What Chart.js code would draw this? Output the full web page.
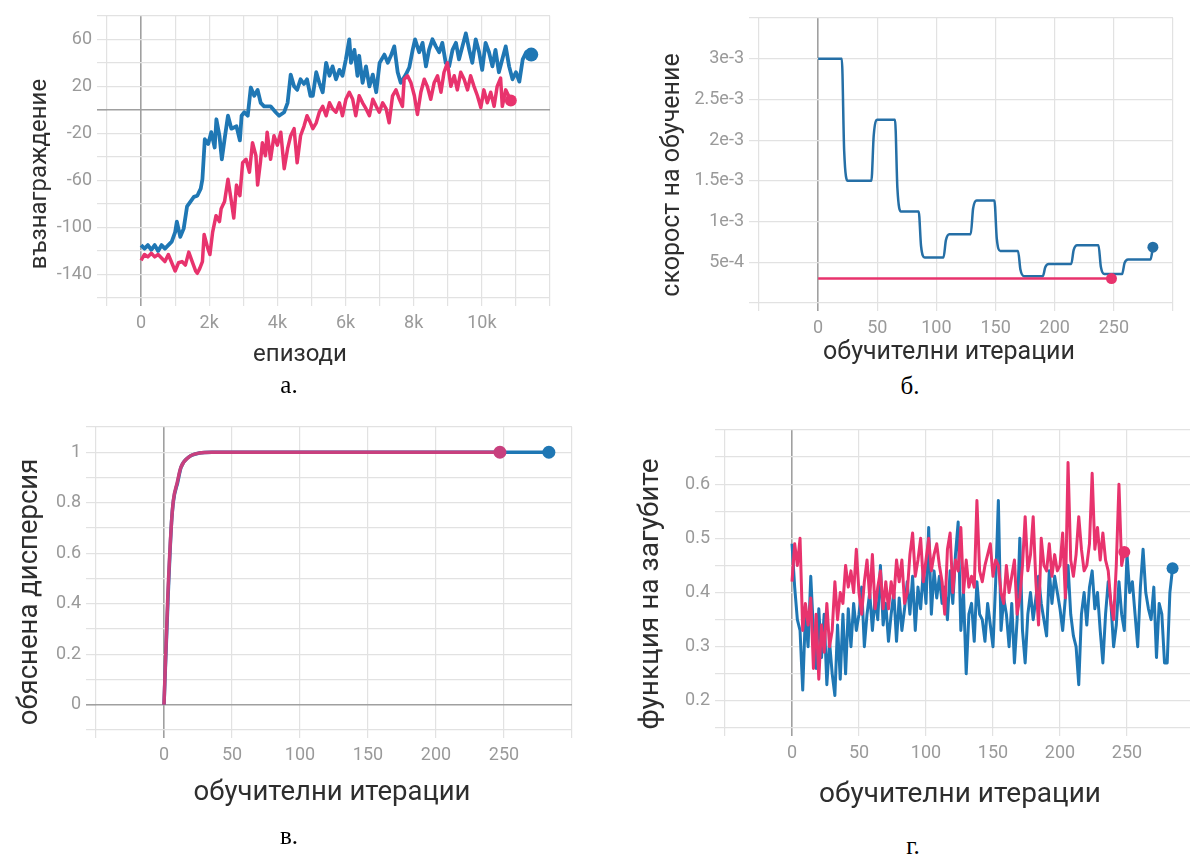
<!DOCTYPE html>
<html lang="bg">
<head>
<meta charset="UTF-8">
<title>Обучение</title>
<script src="https://cdn.jsdelivr.net/npm/chart.js"></script>
<style>
  html, body { margin: 0; padding: 0; background: #fff; overflow: hidden; width: 1190px; height: 854px; }
  .box { position: absolute; }
  .cap { position: absolute; font-family: "Liberation Serif", "Times New Roman", serif; font-size: 25px;
         line-height: 25px; color: #000; transform: translateX(-50%); white-space: nowrap; }
</style>
</head>
<body>
<div class="box" style="left:0;top:0;width:595px;height:372px"><canvas id="chartA"></canvas></div>
<div class="box" style="left:595px;top:0;width:595px;height:372px"><canvas id="chartB"></canvas></div>
<div class="box" style="left:0;top:410px;width:595px;height:402px"><canvas id="chartC"></canvas></div>
<div class="box" style="left:595px;top:410px;width:620px;height:402px"><canvas id="chartD"></canvas></div>
<div class="cap" style="left:289px;top:372px">а.</div>
<div class="cap" style="left:910px;top:373px">б.</div>
<div class="cap" style="left:289px;top:823px">в.</div>
<div class="cap" style="left:913px;top:833px">г.</div>

<script>
    // --- а. reward per episode
    const aBlueEp = [0,100,200,300,400,500,600,700,800,900,1000,1050,1150,1250,1350,1450,1550,1650,1750,1800,
        1870,1970,2060,2160,2210,2300,2370,2450,2550,2650,2800,2900,2950,3030,3130,3220,3320,3420,3510,3610,
        3800,3950,4050,4200,4300,4390,4490,4580,4680,4780,4870,4970,5040,5140,5230,5330,5430,5530,5620,5720,
        5820,5910,6010,6110,6160,6260,6350,6400,6500,6600,6700,6800,6900,7000,7140,7240,7330,7430,7530,7620,
        7770,7870,7970,8040,8160,8260,8360,8450,8550,8650,8750,8840,8940,9040,9140,9240,9330,9430,9530,9630,
        9720,9820,9920,10010,10110,10210,10310,10400,10500,10600,10700,10800,10900,11000,11100,11200,11300,11450];
    const aBlueReward = [-115,-118,-115,-119,-115,-120,-115,-118,-115,-112,-104,-95,-108,-101,-82,-78,-74,-73,-67,-59,
        -25,-29,-19,-32,-8,-22,-42,-25,-5,-16,-14,-26,-5,-2,-5,19,12,17,6,3,
        3,-2,-5,-2,6,30,20,17,26,22,26,12,12,32,23,15,40,29,37,26,
        34,29,43,60,40,51,29,46,23,37,20,30,15,40,47,40,46,54,32,23,
        30,36,51,60,49,57,37,51,60,54,49,57,40,37,51,57,43,54,65,51,
        40,60,49,34,57,49,37,51,32,43,54,37,26,32,24,43,49,47];
    const aPinkEp = [0,100,200,300,400,500,600,700,800,900,1000,1100,1200,1300,1400,1500,1600,1650,1720,1800,
        1850,1960,2020,2100,2200,2300,2350,2450,2550,2650,2720,2800,2900,2980,3080,3180,3270,3370,3420,3500,
        3560,3650,3700,3800,3900,4000,4100,4200,4300,4390,4490,4580,4680,4780,4870,4970,5040,5140,5230,5330,
        5430,5530,5620,5720,5820,5910,6010,6110,6210,6300,6400,6500,6600,6700,6800,6900,6990,7090,7190,7280,
        7380,7480,7580,7670,7720,7820,7920,8020,8110,8210,8310,8400,8500,8600,8700,8800,8890,8990,9090,9190,
        9280,9380,9480,9580,9670,9770,9870,9970,10060,10160,10260,10360,10450,10550,10600,10700,10850];
    const aPinkReward = [-128,-123,-125,-122,-125,-123,-126,-129,-123,-130,-137,-130,-129,-132,-121,-129,-137,-139,-135,-129,
        -106,-118,-123,-104,-90,-95,-84,-78,-59,-78,-92,-64,-73,-45,-42,-53,-28,-39,-64,-45,
        -28,-39,-19,-42,-22,-30,-19,-50,-33,-22,-16,-45,-22,-14,-5,-11,-16,-11,-2,3,
        -5,6,1,-2,6,-5,9,15,9,-5,12,6,1,-5,9,3,-2,6,1,-11,
        12,17,9,3,26,29,23,12,-4,15,26,20,9,23,29,15,32,40,20,29,
        17,32,26,17,29,20,12,2,17,6,15,3,20,27,3,17,8];
    const aXTickVals = [0, 2000, 4000, 6000, 8000, 10000];
    const aXTickText = ['0', '2k', '4k', '6k', '8k', '10k'];
    const aYTickVals = [60, 20, -20, -60, -100, -140];
    const aYTickText = ['60', '20', '-20', '-60', '-100', '-140'];

    // --- б. learning rate
    const bBlueIt = [0,20,22,25,45,47,50,65,67,70,85,87,90,106,108,111,129,131,134,149,
        151,154,169,171,174,190,192,195,214,216,219,237,239,242,257,259,262,281,283];
    const bBlueLr = [3.0e-3,3.0e-3,1.87e-3,1.5e-3,1.5e-3,2.06e-3,2.25e-3,2.25e-3,1.41e-3,1.125e-3,
        1.125e-3,7.0e-4,5.6e-4,5.6e-4,7.7e-4,8.45e-4,8.45e-4,1.16e-3,1.26e-3,1.26e-3,
        7.95e-4,6.4e-4,6.4e-4,4.1e-4,3.3e-4,3.3e-4,4.4e-4,4.8e-4,4.8e-4,6.5e-4,
        7.1e-4,7.1e-4,4.45e-4,3.55e-4,3.55e-4,4.9e-4,5.35e-4,5.35e-4,6.85e-4];
    const bPinkIt = [0, 248];
    const bPinkLr = [3e-4, 3e-4];
    const bYTickVals = [3e-3, 2.5e-3, 2e-3, 1.5e-3, 1e-3, 5e-4];
    const bYTickText = ['3e-3', '2.5e-3', '2e-3', '1.5e-3', '1e-3', '5e-4'];

    // --- в. explained variance
    const cBlueIt = [0, 3, 5.5, 7, 10, 12.5, 18, 26, 35, 283];
    const cBlueVar = [0, 0.43, 0.72, 0.81, 0.88, 0.94, 0.98, 0.997, 1, 1];
    const cPinkIt = [0, 2.8, 5.5, 6.9, 9.7, 12.4, 18, 26, 35, 247];
    const cPinkVar = [0, 0.43, 0.72, 0.81, 0.88, 0.94, 0.98, 0.997, 1, 1];
    const cYTickVals = [0, 0.2, 0.4, 0.6, 0.8, 1];
    const cYTickText = ['0', '0.2', '0.4', '0.6', '0.8', '1'];

    // --- г. loss, sampled every 2 iterations
    const dStep = 2;
    const dBlueLoss = [0.49,0.41,0.35,0.33,0.22,0.36,0.30,0.43,0.33,0.26,
        0.37,0.28,0.36,0.23,0.31,0.25,0.21,0.34,0.24,0.36,
        0.25,0.37,0.30,0.38,0.33,0.36,0.41,0.30,0.36,0.40,
        0.33,0.39,0.35,0.45,0.34,0.38,0.31,0.36,0.40,0.31,
        0.39,0.33,0.37,0.42,0.36,0.43,0.33,0.41,0.37,0.44,
        0.38,0.52,0.36,0.44,0.39,0.43,0.38,0.41,0.35,0.44,
        0.38,0.47,0.53,0.33,0.40,0.25,0.36,0.38,0.31,0.42,
        0.36,0.35,0.31,0.38,0.34,0.30,0.42,0.57,0.33,0.39,
        0.36,0.30,0.38,0.27,0.35,0.50,0.33,0.27,0.36,0.40,
        0.35,0.39,0.43,0.38,0.35,0.32,0.44,0.38,0.43,0.40,
        0.37,0.33,0.39,0.45,0.36,0.32,0.30,0.23,0.36,0.40,
        0.34,0.41,0.44,0.37,0.40,0.33,0.27,0.36,0.42,0.38,
        0.30,0.34,0.42,0.36,0.33,0.47,0.40,0.42,0.36,0.30,
        0.41,0.48,0.40,0.37,0.35,0.41,0.28,0.38,0.36,0.27,
        0.27,0.40,0.445];
    const dPinkLoss = [0.42,0.49,0.45,0.50,0.33,0.38,0.34,0.39,0.26,0.36,
        0.24,0.34,0.29,0.38,0.30,0.33,0.42,0.35,0.40,0.38,
        0.45,0.41,0.44,0.40,0.48,0.40,0.36,0.42,0.46,0.39,
        0.47,0.37,0.41,0.44,0.37,0.42,0.37,0.42,0.39,0.46,
        0.42,0.46,0.38,0.40,0.47,0.51,0.43,0.46,0.50,0.42,
        0.46,0.50,0.44,0.47,0.49,0.45,0.42,0.36,0.48,0.51,
        0.40,0.46,0.44,0.52,0.40,0.46,0.41,0.43,0.41,0.57,
        0.44,0.42,0.45,0.47,0.49,0.43,0.46,0.45,0.40,0.38,
        0.45,0.40,0.43,0.46,0.36,0.39,0.45,0.54,0.44,0.47,
        0.54,0.42,0.34,0.50,0.45,0.44,0.49,0.43,0.47,0.44,
        0.45,0.51,0.39,0.64,0.46,0.43,0.47,0.54,0.48,0.44,
        0.45,0.49,0.62,0.48,0.52,0.46,0.51,0.46,0.44,0.38,
        0.35,0.45,0.60,0.45,0.475];
    const dYTickVals = [0.6, 0.5, 0.4, 0.3, 0.2];
    const dYTickText = ['0.6', '0.5', '0.4', '0.3', '0.2'];

    const iterTickVals = [0, 50, 100, 150, 200, 250];
    const iterTickText = ['0', '50', '100', '150', '200', '250'];

    const BLUE = '#1f77b4';
    const PINK = '#e8336d';
    const GRID = '#e2e2e2';
    const ZERO = '#a0a0a0';
    const TICK_FONT = {family: 'Roboto', size: 18};

    Chart.defaults.animation = false;

    // draws the two axis titles at fixed spots of the canvas
    const axisTitles = {
        id: 'axisTitles',
        afterDraw(chart, args, opts) {
            const c = chart.ctx;
            c.save();
            c.fillStyle = '#2e2e2e';
            c.textAlign = 'center';
            c.textBaseline = 'middle';
            c.font = opts.size + 'px Roboto';
            c.fillText(opts.xText, opts.xPos[0], opts.xPos[1]);
            c.translate(opts.yPos[0], opts.yPos[1]);
            c.rotate(-Math.PI / 2);
            c.fillText(opts.yText, 0, 0);
            c.restore();
        }
    };

    function series(xs, ys, color, width, dot, smooth) {
        const n = Math.min(xs.length, ys.length);
        const pts = [];
        for (let i = 0; i < n; i++) pts.push({x: xs[i], y: ys[i]});
        return {
            data: pts,
            borderColor: color,
            backgroundColor: color,
            borderWidth: width,
            pointRadius: ctx => ctx.dataIndex === n - 1 ? dot : 0,
            pointBorderWidth: 0,
            pointHoverRadius: 0,
            tension: 0,
            cubicInterpolationMode: smooth ? 'monotone' : 'default',
            borderJoinStyle: 'round',
            fill: false
        };
    }

    function steps(min, max, step) {
        const out = [];
        const n = Math.round((max - min) / step);
        for (let i = 0; i <= n; i++) out.push(Math.round((min + i * step) * 1e6) / 1e6);
        return out;
    }

    function labeler(vals, texts) {
        return function (value) {
            for (let i = 0; i < vals.length; i++) {
                if (Math.abs(vals[i] - value) < 1e-9) return texts[i];
            }
            return '';
        };
    }

    function makeChart(id, g) {
        const xGrid = steps(g.xMin, g.xMax, g.xStep);
        const yGrid = steps(g.yMin, g.yMax, g.yStep);
        return new Chart(document.getElementById(id), {
            type: 'line',
            data: {datasets: g.datasets},
            plugins: [axisTitles],
            options: {
                responsive: true,
                maintainAspectRatio: false,
                layout: {
                    padding: {
                        left: 0, bottom: 0,
                        top: g.area.t - g.box.top,
                        right: g.box.left + g.box.w - g.area.r
                    }
                },
                plugins: {
                    legend: {display: false},
                    tooltip: {enabled: false},
                    axisTitles: g.titles
                },
                scales: {
                    x: {
                        type: 'linear',
                        min: g.xMin, max: g.xMax,
                        afterBuildTicks: s => { s.ticks = xGrid.map(v => ({value: v})); },
                        afterFit: s => { s.height = g.box.top + g.box.h - g.area.b; },
                        border: {display: false},
                        grid: {
                            color: ctx => (g.zeroX && ctx.tick && ctx.tick.value === 0) ? ZERO : GRID,
                            lineWidth: ctx => (g.zeroX && ctx.tick && ctx.tick.value === 0) ? 1.6 : 1.2,
                            tickLength: 8
                        },
                        ticks: {
                            callback: labeler(g.xTickVals, g.xTickText),
                            autoSkip: false, maxRotation: 0,
                            font: TICK_FONT, color: '#9a9a9a', padding: 7
                        }
                    },
                    y: {
                        type: 'linear',
                        min: g.yMin, max: g.yMax,
                        afterBuildTicks: s => { s.ticks = yGrid.map(v => ({value: v})); },
                        afterFit: s => { s.width = g.area.l - g.box.left; },
                        border: {display: false},
                        grid: {
                            color: ctx => (g.zeroY && ctx.tick && ctx.tick.value === 0) ? ZERO : GRID,
                            lineWidth: ctx => (g.zeroY && ctx.tick && ctx.tick.value === 0) ? 1.6 : 1.2,
                            tickLength: 10
                        },
                        ticks: {
                            callback: labeler(g.yTickVals, g.yTickText),
                            autoSkip: false,
                            font: TICK_FONT, color: '#9a9a9a', padding: 5
                        }
                    }
                }
            }
        });
    }

    const dBlueIt = dBlueLoss.map((v, i) => i * dStep);
    const dPinkIt = dPinkLoss.map((v, i) => i * dStep);

    makeChart('chartA', {
        box: {left: 0, top: 0, w: 595, h: 372},
        area: {l: 107, t: 14, r: 550, b: 298},
        xMin: -1000, xMax: 12000, xStep: 1000,
        yMin: -160, yMax: 80, yStep: 20,
        xTickVals: aXTickVals, xTickText: aXTickText,
        yTickVals: aYTickVals, yTickText: aYTickText,
        zeroX: true, zeroY: true,
        titles: {size: 24, xText: 'епизоди', xPos: [300, 355], yText: 'възнаграждение', yPos: [40, 174]},
        datasets: [
            series(aPinkEp, aPinkReward, PINK, 3.5, 6, false),
            series(aBlueEp, aBlueReward, BLUE, 3.8, 7, false)
        ]
    });

    makeChart('chartB', {
        box: {left: 595, top: 0, w: 595, h: 372},
        area: {l: 759, t: 18, r: 1173, b: 303},
        xMin: -50, xMax: 300, xStep: 50,
        yMin: 0, yMax: 3.5e-3, yStep: 5e-4,
        xTickVals: iterTickVals, xTickText: iterTickText,
        yTickVals: bYTickVals, yTickText: bYTickText,
        zeroX: true, zeroY: false,
        titles: {size: 25, xText: 'обучителни итерации', xPos: [354, 353], yText: 'скорост на обучение', yPos: [78, 175]},
        datasets: [
            series(bPinkIt, bPinkLr, PINK, 2.5, 5.5, false),
            series(bBlueIt, bBlueLr, '#256fa6', 2.5, 5.5, true)
        ]
    });

    makeChart('chartC', {
        box: {left: 0, top: 410, w: 595, h: 402},
        area: {l: 96, t: 427, r: 572, b: 730},
        xMin: -50, xMax: 300, xStep: 50,
        yMin: -0.1, yMax: 1.1, yStep: 0.1,
        xTickVals: iterTickVals, xTickText: iterTickText,
        yTickVals: cYTickVals, yTickText: cYTickText,
        zeroX: true, zeroY: true,
        titles: {size: 27.5, xText: 'обучителни итерации', xPos: [332, 383], yText: 'обяснена дисперсия', yPos: [30, 182]},
        datasets: [
            series(cPinkIt, cPinkVar, '#c8407e', 3.5, 6.5, true),
            series(cBlueIt, cBlueVar, BLUE, 3.5, 6.5, true)
        ]
    });

    makeChart('chartD', {
        box: {left: 595, top: 410, w: 620, h: 402},
        area: {l: 725, t: 430, r: 1194, b: 728},
        xMin: -50, xMax: 300, xStep: 50,
        yMin: 0.15, yMax: 0.7, yStep: 0.05,
        xTickVals: iterTickVals, xTickText: iterTickText,
        yTickVals: dYTickVals, yTickText: dYTickText,
        zeroX: true, zeroY: false,
        titles: {size: 28, xText: 'обучителни итерации', xPos: [365, 385], yText: 'функция на загубите', yPos: [56, 184]},
        datasets: [
            series(dPinkIt, dPinkLoss, PINK, 3, 6, false),
            series(dBlueIt, dBlueLoss, BLUE, 3, 6, false)
        ]
    });
</script>
</body>
</html>
